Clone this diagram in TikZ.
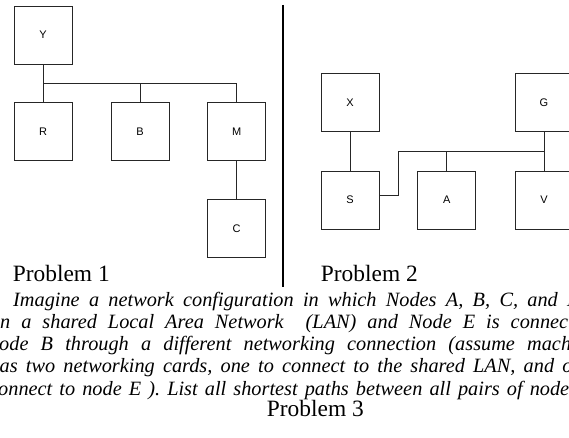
\documentclass[tikz,border=0pt]{standalone}
\usepackage{fontspec}
\setmainfont{Liberation Serif}
\newfontfamily\boxfont{Liberation Sans}
\usetikzlibrary{calc}
\newcommand{\wsp}[1]{\frenchspacing\spaceskip=#1\relax}
\begin{document}
\begin{tikzpicture}[x=1pt,y=-1pt,
  box/.style={draw=black!85, line width=0.8pt, minimum width=58pt, minimum height=58pt, inner sep=0pt, font=\boxfont\fontsize{11}{13}\selectfont},
  wire/.style={draw=black!85, line width=0.8pt},
  divider/.style={draw=black, line width=2.4pt},
  ptitle/.style={anchor=base west, inner sep=0pt, font=\fontsize{23.4}{28}\selectfont},
  para/.style={anchor=base west, inner sep=0pt, font=\fontsize{20.3}{22}\selectfont\itshape}]
\useasboundingbox (0,0) rectangle (569,438);
\clip (0,0) rectangle (569,438);
% Problem 1
\node[box] (Y) at (43,35) {Y};
\node[box] (R) at (43,131.7) {R};
\node[box] (B) at (140,131.7) {B};
\node[box] (M) at (236.7,131.7) {M};
\node[box] (C) at (236.7,228.8) {C};
\coordinate (bus1) at (43,83.3);
\draw[wire] (Y.south) -- (R.north);
\draw[wire] (bus1) -| (M.north);
\draw[wire] (B.north) -- (B.north |- bus1);
\draw[wire] (M.south) -- (C.north);
% divider
\coordinate (d1) at (282.7,5);
\coordinate (d2) at (282.7,287);
\draw[divider] (d1) -- (d2);
% Problem 2
\node[box] (X) at (350,102.7) {X};
\node[box] (S) at (350,200) {S};
\node[box] (A) at (446.8,200) {A};
\node[box] (G) at (544,102.7) {G};
\node[box] (V) at (544,200) {V};
\coordinate (s1) at ($(S.east)+(0,-5)$);
\coordinate (k1) at (398.3,195);
\coordinate (k2) at (398.3,151.7);
\draw[wire] (X.south) -- (S.north);
\draw[wire] (G.south) -- (V.north);
\draw[wire] (s1) -- (k1) -- (k2) -- (G.south |- k2);
\draw[wire] (A.north) -- (A.north |- k2);
% texts
\node[ptitle] (p1) at (12.7,281.7) {Problem 1};
\node[ptitle] (p2) at (320.7,281.7) {Problem 2};
\node[ptitle] (p3) at (266.7,416.7) {Problem 3};
\node[para] (l1) at (13,306) {\wsp{9.3pt}Imagine a network configuration in which Nodes A, B, C, and D};
\node[para] (l2) at (0,328.3) {\wsp{11pt}n a shared Local Area Network\ \ (LAN) and Node E is connected};
\node[para] (l3) at (-1,350.5) {\wsp{12.2pt}ode B through a different networking connection (assume machine};
\node[para] (l4) at (-0.5,372.8) {\wsp{8.2pt}as two networking cards, one to connect to the shared LAN, and one};
\node[para] (l5) at (-2,395) {\wsp{7.1pt}onnect to node E ). List all shortest paths between all pairs of nodes.};
\end{tikzpicture}
\end{document}
